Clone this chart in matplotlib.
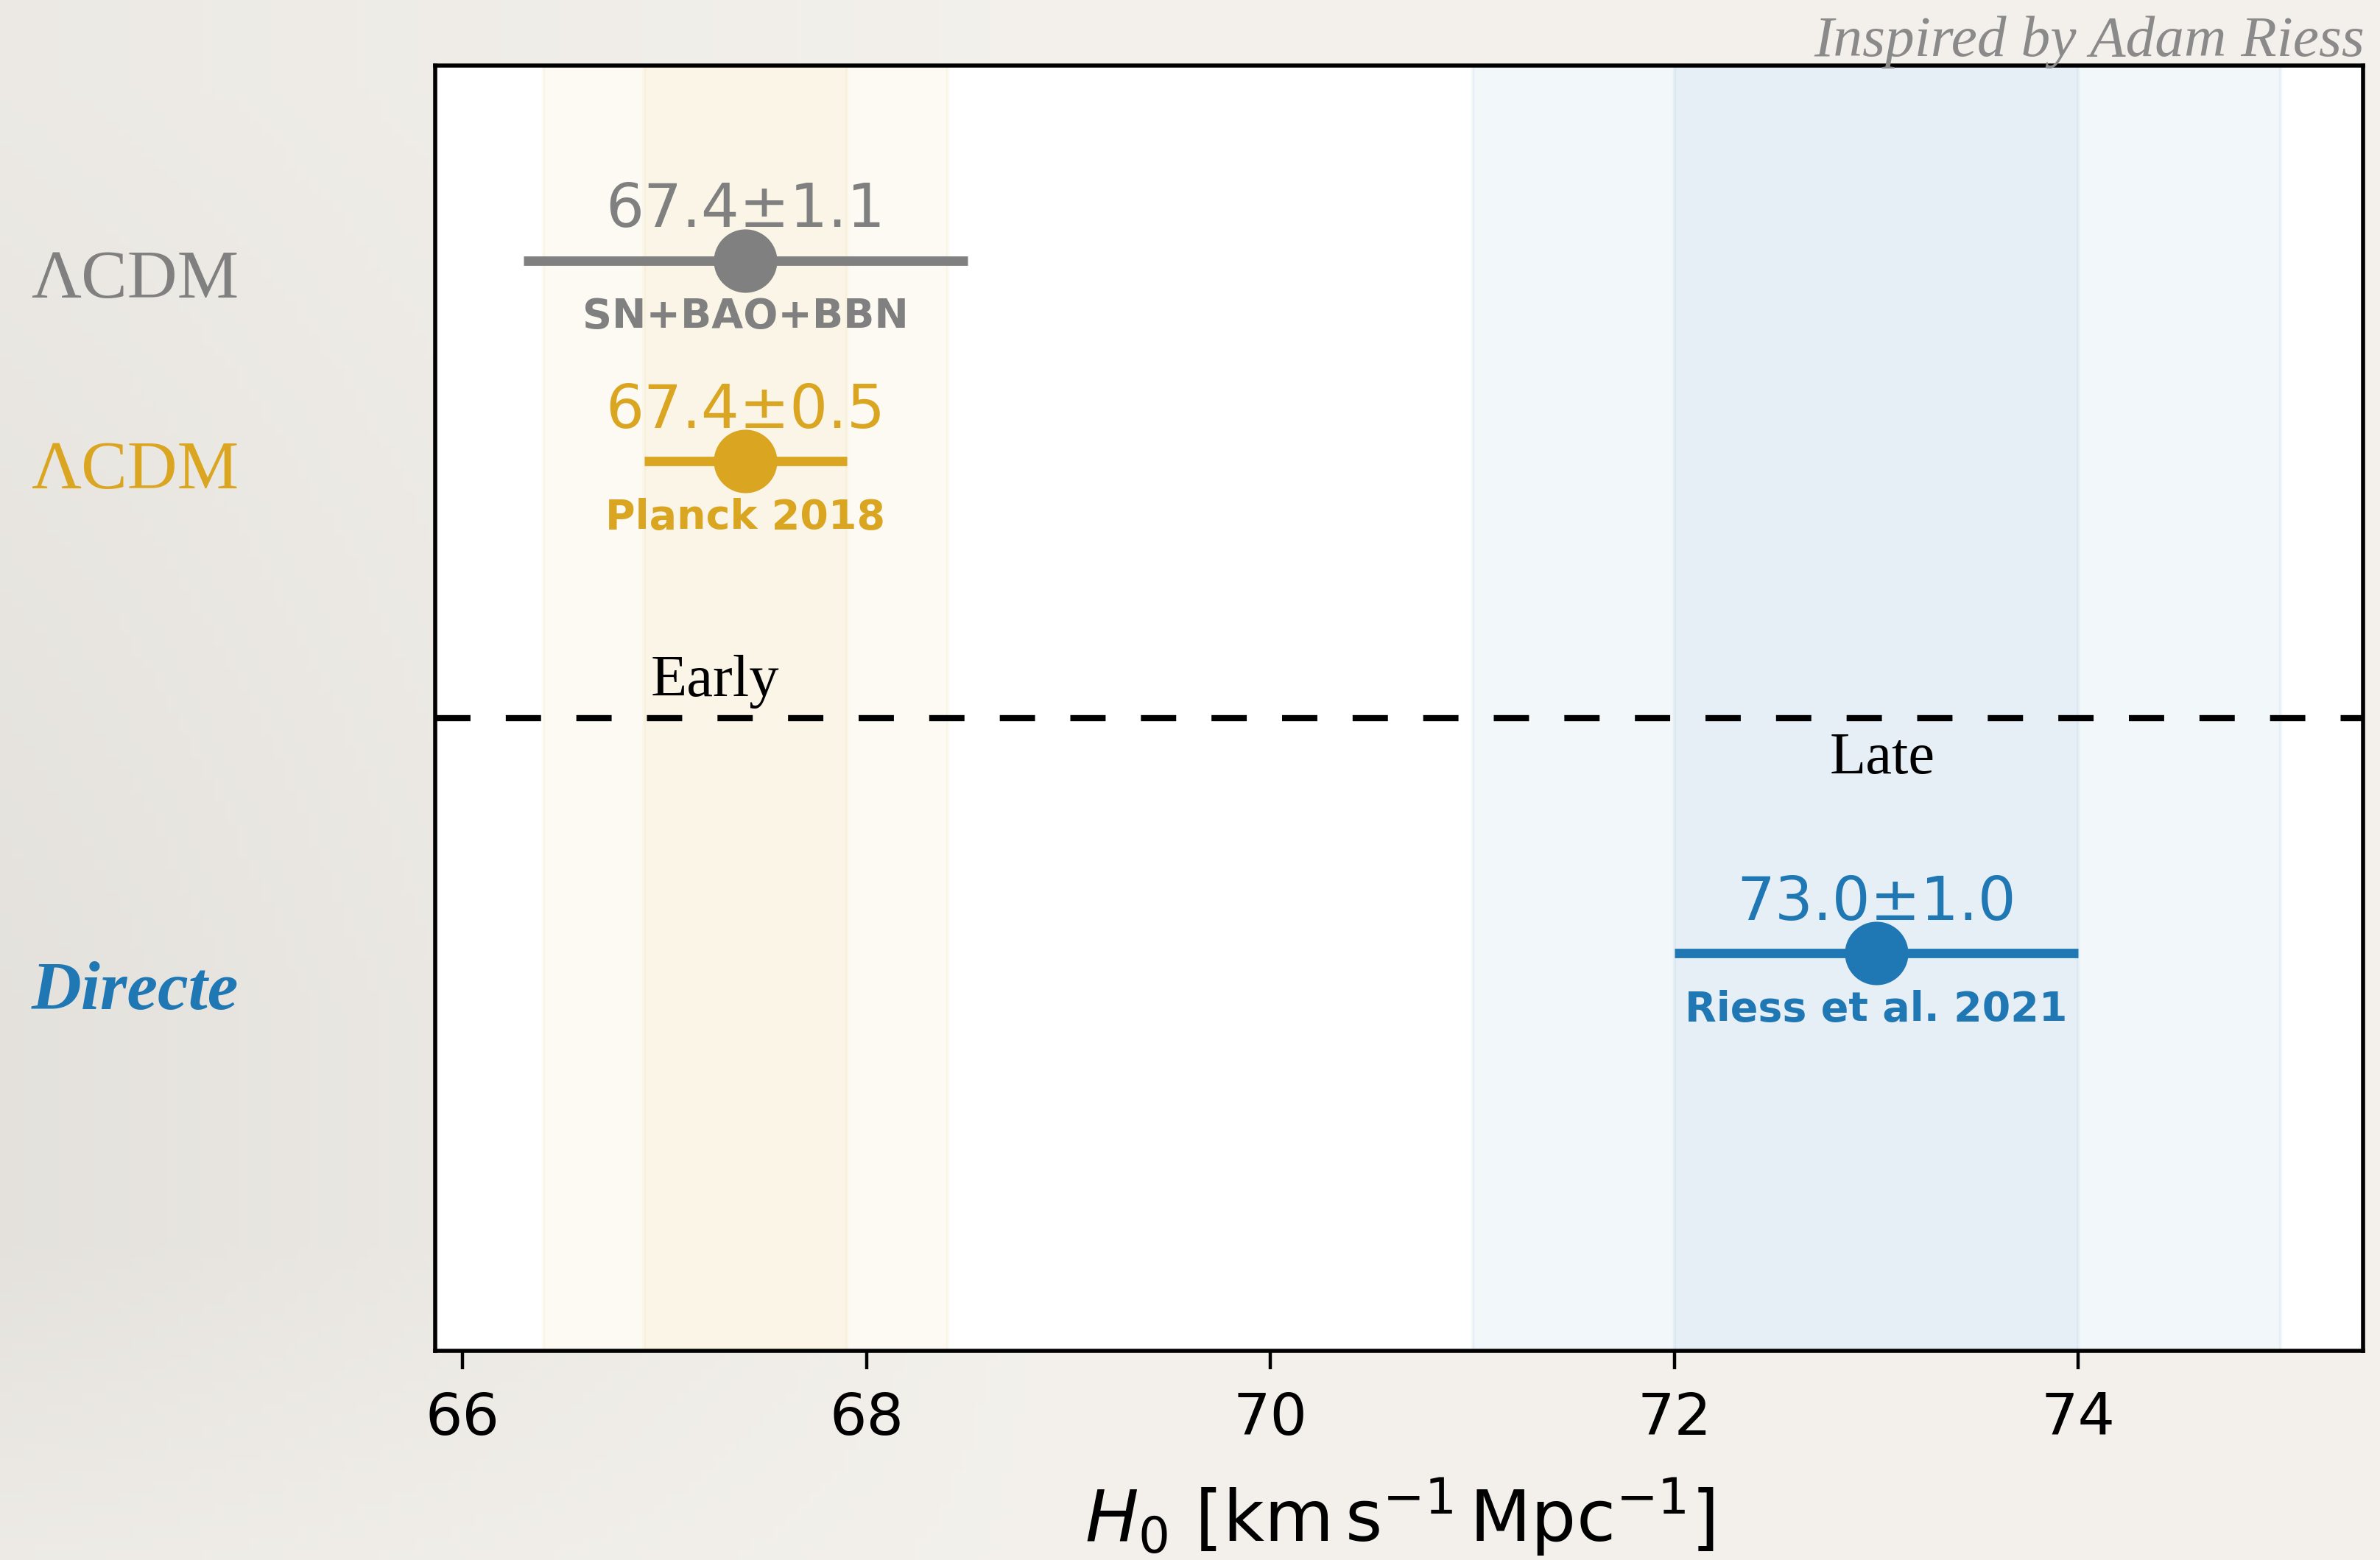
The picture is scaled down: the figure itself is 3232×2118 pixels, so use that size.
import numpy as np
import matplotlib
matplotlib.use("Agg")
import matplotlib.pyplot as plt

# ---- data ----
labels_src = ["SN+BAO+BBN", "Planck 2018", "Riess et al. 2021"]
h0_values = [67.4, 67.4, 73.0]
h0_errors = [1.1, 0.5, 1.0]
row_y = [8.48, 6.92, 3.09]
colors = ["#808080", "#daa520", "#1f77b4"]
row_labels = ["ΛCDM", "ΛCDM", "Directe"]
row_label_styles = ["normal", "normal", "italic"]
row_label_weights = ["normal", "normal", "bold"]
row_label_fig_y = [0.8093, 0.6868, 0.3531]

band_centers = [67.4, 73.0]
band_sigma = [0.5, 1.0]
band_colors = ["#daa520", "#1f77b4"]

divider_y = 4.92
x_ticks = [66, 68, 70, 72, 74]

fig = plt.figure(figsize=(8.08, 5.295), dpi=400)

# paper-like background
bg = fig.add_axes([0, 0, 1, 1], zorder=-10)
gx = np.linspace(0, 1, 200)
gy = np.linspace(0, 1, 140)
GX, GY = np.meshgrid(gx, gy)
light = np.array([0.955, 0.945, 0.925])
dark = np.array([0.895, 0.885, 0.865])
w = np.clip(1 - GX * 2.2, 0, 1) * (0.35 + 0.65 * np.clip((GY - 0.05) / 0.6, 0, 1)) ** 0.7
w = w * (1 - np.clip((GY - 0.8) / 0.2, 0, 1) * 0.6)
img = light[None, None, :] * (1 - w[..., None]) + dark[None, None, :] * w[..., None]
bg.imshow(img, extent=[0, 1, 0, 1], aspect="auto", origin="upper")
bg.axis("off")

ax = fig.add_axes([0.183, 0.1342, 0.8099, 0.824])
ax.set_facecolor("white")

for c, s, col in zip(band_centers, band_sigma, band_colors):
    ax.axvspan(c - 2 * s, c + 2 * s, facecolor=col, alpha=0.055, edgecolor=col, lw=0.8, zorder=0)
    ax.axvspan(c - s, c + s, facecolor=col, alpha=0.055, edgecolor=col, lw=0.8, zorder=0)

for v, e, y, col, src in zip(h0_values, h0_errors, row_y, colors, labels_src):
    ax.errorbar(v, y, xerr=e, fmt="o", color=col, ms=14.5, elinewidth=2.3, capsize=0, zorder=3)
    ax.annotate(f"{v:.1f}±{e:.1f}", (v, y), xytext=(0, 8.2), textcoords="offset points",
                ha="center", va="baseline", fontsize=14.7, color=col)
    ax.annotate(src, (v, y), xytext=(0, -16.5), textcoords="offset points",
                ha="center", va="baseline", fontsize=10, fontweight="bold", color=col)

ax.axhline(divider_y, color="black", lw=1.5, linestyle=(0, (5.75, 5.75)), zorder=2)
ax.text(67.25, 5.09, "Early", ha="center", va="baseline", fontsize=14.5,
        family="Liberation Serif", color="black")
ax.text(73.03, 4.49, "Late", ha="center", va="baseline", fontsize=14.5,
        family="Liberation Serif", color="black")

ax.set_xlim(65.865, 75.41)
ax.set_ylim(0, 10)
ax.set_xticks(x_ticks)
ax.set_xticklabels([str(t) for t in x_ticks])
ax.set_yticks([])
ax.tick_params(axis="x", labelsize=14.3, length=4.5, width=0.8, pad=5.2, direction="out")
for sp in ax.spines.values():
    sp.set_linewidth(1.0)
    sp.set_color("black")
ax.set_xlabel(r"$H_0\ [\mathrm{km\,s^{-1}\,Mpc^{-1}}]$", fontsize=17.4, labelpad=7.3)

for lab, st, wt, fy, col in zip(row_labels, row_label_styles, row_label_weights, row_label_fig_y, colors):
    fig.text(0.0568, fy, lab, ha="center", va="baseline", fontsize=16.9, color=col,
             family="Liberation Serif", style=st, weight=wt)

fig.text(0.9936, 0.964, "Inspired by Adam Riess", ha="right", va="baseline", fontsize=14.3,
         family="Liberation Serif", style="italic", color="#8a8a8a")

fig.savefig("out.png", dpi=400)
